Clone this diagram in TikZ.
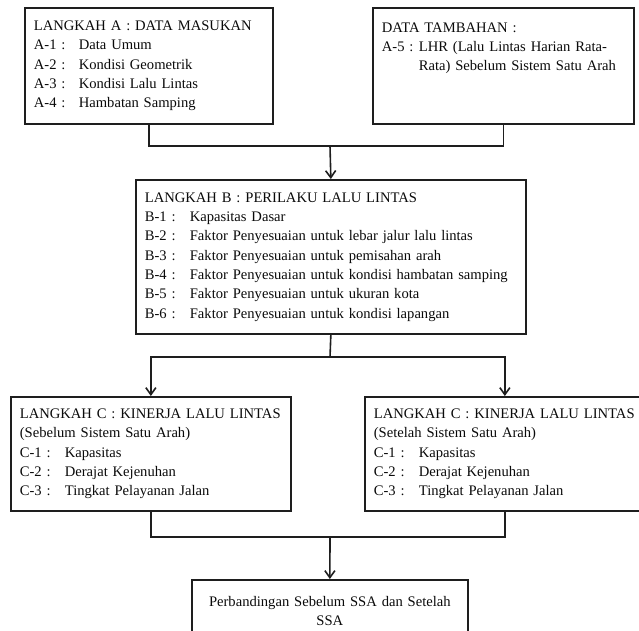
\documentclass[tikz,border=0pt]{standalone}
\usepackage{fontspec}
\setmainfont{Liberation Serif}
\usetikzlibrary{arrows.meta}
\definecolor{skLine}{RGB}{30,30,30}
\definecolor{skText}{RGB}{10,10,10}
\tikzset{
    base/.style={font=\fontsize{14.6}{19.3}\selectfont, text=skText},
    box/.style={base, rectangle, draw=skLine, line width=1.7pt, align=left,
                inner xsep=9pt, inner ysep=0pt, anchor=north west},
    link/.style={draw=skLine, line width=1.6pt},
    flow/.style={link, -{Straight Barb[length=7pt,width=10pt]}}
}
\newcommand{\lbl}[1]{\makebox[45pt][l]{#1}}
\newcommand{\lblx}[1]{\makebox[37pt][l]{#1}}

\begin{document}
\begin{tikzpicture}[x=1pt, y=-1pt]
  \clip (0,0) rectangle (639,630);

  % Langkah A and data tambahan
  \node[box, text width=230pt, minimum height=116pt] (inA) at (24,7) {
    LANGKAH A : DATA MASUKAN\\
    \lbl{A-1 :}Data Umum\\
    \lbl{A-2 :}Kondisi Geometrik\\
    \lbl{A-3 :}Kondisi Lalu Lintas\\
    \lbl{A-4 :}Hambatan Samping};

  \node[box, text width=243pt, minimum height=116pt] (extra) at (372,7) {
    DATA TAMBAHAN :\\
    \lblx{A-5 :}LHR (Lalu Lintas Harian Rata-\\
    \hspace*{37pt}Rata) Sebelum Sistem Satu Arah\\
    ~\\
    ~};

  % Langkah B
  \node[box, text width=372pt, minimum height=154pt] (stepB) at (135,179) {
    LANGKAH B : PERILAKU LALU LINTAS\\
    \lbl{B-1 :}Kapasitas Dasar\\
    \lbl{B-2 :}Faktor Penyesuaian untuk lebar jalur lalu lintas\\
    \lbl{B-3 :}Faktor Penyesuaian untuk pemisahan arah\\
    \lbl{B-4 :}Faktor Penyesuaian untuk kondisi hambatan samping\\
    \lbl{B-5 :}Faktor Penyesuaian untuk ukuran kota\\
    \lbl{B-6 :}Faktor Penyesuaian untuk kondisi lapangan};

  % Langkah C, before and after
  \node[box, text width=262pt, minimum height=114pt] (stepCpre) at (10,396) {
    LANGKAH C : KINERJA LALU LINTAS\\
    (Sebelum Sistem Satu Arah)\\
    \lbl{C-1 :}Kapasitas\\
    \lbl{C-2 :}Derajat Kejenuhan\\
    \lbl{C-3 :}Tingkat Pelayanan Jalan};

  \node[box, text width=262pt, minimum height=114pt] (stepCpost) at (364,396) {
    LANGKAH C : KINERJA LALU LINTAS\\
    (Setelah Sistem Satu Arah)\\
    \lbl{C-1 :}Kapasitas\\
    \lbl{C-2 :}Derajat Kejenuhan\\
    \lbl{C-3 :}Tingkat Pelayanan Jalan};

  % Comparison
  \node[box, align=center, text width=258pt, minimum height=62pt] (compare) at (191,579) {
    Perbandingan Sebelum SSA dan Setelah\\
    SSA};

  % Connectors
  \coordinate (joinA) at (330,146);
  \coordinate (joinB) at (330,357);
  \coordinate (joinC) at (330,537);

  \draw[link] (inA.south) |- (joinA) -| (extra.south);
  \draw[flow] (joinA) -- (stepB.north);

  \draw[link] (stepB.south) -- (joinB);
  \draw[flow] (joinB) -| (stepCpre.north);
  \draw[flow] (joinB) -| (stepCpost.north);

  \draw[link] (stepCpre.south) |- (joinC) -| (stepCpost.south);
  \draw[flow] (joinC) -- (compare.north);
\end{tikzpicture}
\end{document}
